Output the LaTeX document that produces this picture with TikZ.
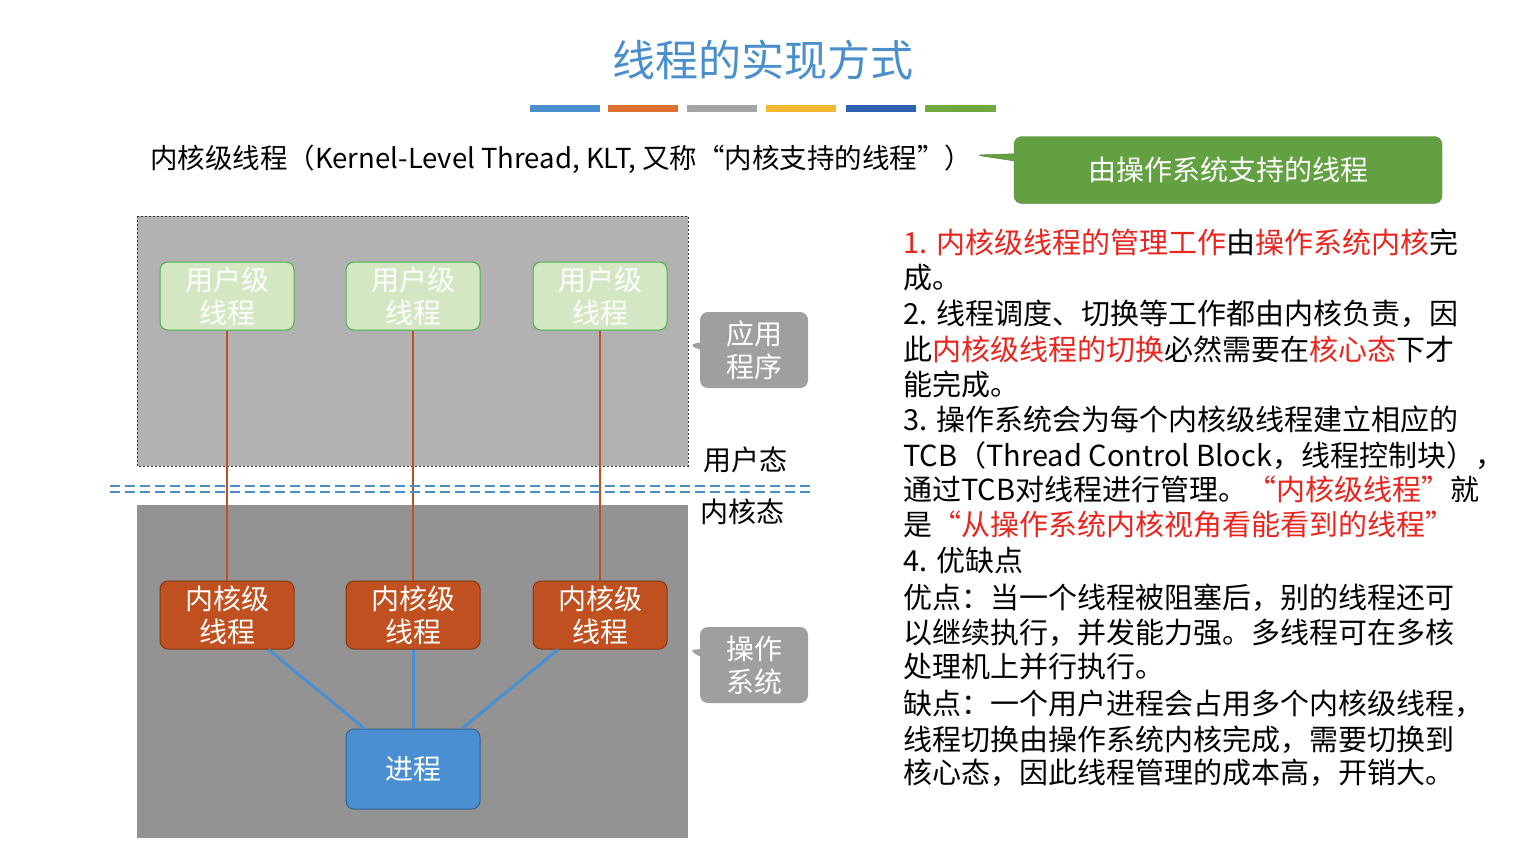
\documentclass[tikz,border=0pt]{standalone}
\usepackage{fontspec}
\setmainfont{Noto Sans CJK SC}
\usetikzlibrary{shapes.callouts}
\definecolor{ttl}{HTML}{4A8FCB}
\definecolor{ured}{HTML}{E8251E}
\definecolor{ugreen}{HTML}{D3E8C2}
\definecolor{kred}{HTML}{C0501F}
\definecolor{pblue}{HTML}{4A8FD2}
\definecolor{cgreen}{HTML}{63A042}
\definecolor{b1}{HTML}{4A8FCB}\definecolor{b2}{HTML}{E07030}\definecolor{b3}{HTML}{A5A5A5}
\definecolor{b4}{HTML}{F0B830}\definecolor{b5}{HTML}{3060B0}\definecolor{b6}{HTML}{70A840}
\newcommand{\rd}[1]{\textcolor{ured}{#1}}
\begin{document}
\begin{tikzpicture}[x=1pt,y=-1pt,
  box/.style={draw,rounded corners=8pt,minimum width=134pt,align=center,font=\fontsize{28}{33}\selectfont,text=white,line width=1pt},
  ut/.style={box,fill=ugreen,draw=green!40!gray,minimum height=68pt},
  kt/.style={box,fill=kred,draw=kred!70!black,minimum height=68pt},
  lbl/.style={font=\fontsize{29}{30}\selectfont,anchor=base west,inner sep=0pt},
  gc/.style={rectangle callout,rounded corners=8pt,fill=gray!75,text=white,align=center,font=\fontsize{28}{33}\selectfont,minimum width=108pt,minimum height=76pt}]
\useasboundingbox (0,0) rectangle (1539,860);
\node[font=\fontsize{43}{46}\selectfont,text=ttl] (title) at (763,60) {线程的实现方式};
\fill[b1] (530,105) rectangle (600,112);
\fill[b2] (608,105) rectangle (678,112);
\fill[b3] (687,105) rectangle (757,112);
\fill[b4] (766,105) rectangle (836,112);
\fill[b5] (846,105) rectangle (916,112);
\fill[b6] (925,105) rectangle (996,112);
\node[lbl,font=\fontsize{27.5}{30}\selectfont] (head) at (150,168) {内核级线程（Kernel-Level Thread, KLT, 又称“内核支持的线程”）};
\node[rectangle callout,rounded corners=8pt,fill=cgreen,draw=cgreen!80!black,text=white,minimum width=428pt,minimum height=67pt,font=\fontsize{28}{30}\selectfont,callout absolute pointer={(975,155)}] (os) at (1228,170) {由操作系统支持的线程};
\fill[gray!60,draw=gray!40!black,dash pattern=on 2pt off 2pt] (137,216) rectangle (688,466);
\fill[gray!85] (137,505) rectangle (688,838);
\foreach \i/\x in {1/227,2/413,3/600}{
  \node[ut] (u\i) at (\x,296) {用户级\\线程};
  \node[kt] (k\i) at (\x,615) {内核级\\线程};
  \draw[kred,line width=2pt] (u\i) -- (k\i);
}
\node[box,fill=pblue,draw=pblue!70!black,minimum height=80pt] (p) at (413,769) {进程};
\foreach \i in {1,2,3} \draw[pblue,line width=3pt] (k\i) -- (p);
\draw[ttl,line width=2pt,dash pattern=on 10pt off 5pt] (110,486) -- (815,486) (110,492) -- (815,492);
\node[gc,callout absolute pointer={(688,345)}] (app) at (754,350) {应用\\程序};
\node[gc,callout absolute pointer={(688,650)}] (sys) at (754,665) {操作\\系统};
\node[lbl,font=\fontsize{28}{30}\selectfont] (us) at (703,470) {用户态};
\node[lbl,font=\fontsize{28}{30}\selectfont] (ks) at (700,522) {内核态};
\begin{scope}[every node/.style={lbl}]
\node at (903,253) {\rd{1. 内核级线程的管理工作}由\rd{操作系统内核}完};
\node at (903,288) {成。};
\node at (903,324) {2. 线程调度、切换等工作都由内核负责，因};
\node at (903,360) {此\rd{内核级线程的切换}必然需要在\rd{核心态}下才};
\node at (903,395) {能完成。};
\node at (903,430) {3. 操作系统会为每个内核级线程建立相应的};
\node at (903,466) {TCB（Thread Control Block，线程控制块），};
\node at (903,500) {通过TCB对线程进行管理。\rd{“内核级线程”}就};
\node at (903,535) {是\rd{“从操作系统内核视角看能看到的线程”}};
\node at (903,571) {4. 优缺点};
\node at (903,608) {优点：当一个线程被阻塞后，别的线程还可};
\node at (903,643) {以继续执行，并发能力强。多线程可在多核};
\node at (903,677) {处理机上并行执行。};
\node at (903,714) {缺点：一个用户进程会占用多个内核级线程，};
\node at (903,750) {线程切换由操作系统内核完成，需要切换到};
\node at (903,783) {核心态，因此线程管理的成本高，开销大。};
\end{scope}
\end{tikzpicture}
\end{document}
